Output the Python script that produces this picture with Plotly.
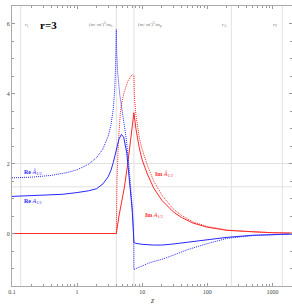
import math
import plotly.graph_objects as go

# ---- data ----
x_re_hat = [0.1, 0.2, 0.4, 0.7, 1, 1.5, 2, 2.5, 3, 3.3, 3.6, 3.8, 3.9, 3.97, 4.0, 4.05, 4.2, 4.5, 4.75,
            5.2, 5.7, 6.2, 6.6, 7.0, 7.3, 7.42, 7.46, 8, 9, 10, 12, 15, 20, 30, 50, 100, 200, 500, 1000, 2000]
re_hat = [1.59, 1.61, 1.66, 1.74, 1.82, 1.98, 2.17, 2.42, 2.78, 3.08, 3.57, 4.18, 4.78, 5.4, 5.83, 5.2, 4.6,
          4.0, 3.7, 3.2, 2.7, 2.0, 1.45, 0.8, 0.2, -0.2, -1.03, -1.0, -0.96, -0.93, -0.86, -0.8, -0.74,
          -0.62, -0.46, -0.29, -0.14, -0.06, -0.03, -0.015]

x_re_a = [0.1, 0.3, 0.6, 1, 1.5, 2, 2.5, 3, 3.3, 3.6, 3.8, 4.0, 4.4, 4.8, 5.2, 5.8, 6.5, 7.0, 7.3, 7.46,
          8, 10, 15, 20, 30, 50, 100, 200, 500, 1000, 2000]
re_a = [1.06, 1.09, 1.12, 1.17, 1.22, 1.28, 1.42, 1.62, 1.8, 2.03, 2.2, 2.4, 2.7, 2.83, 2.75, 2.3, 1.35,
        0.7, 0.1, -0.26, -0.28, -0.31, -0.33, -0.33, -0.3, -0.25, -0.18, -0.11, -0.05, -0.03, -0.015]

x_im_hat = [0.1, 4.0, 4.1, 4.3, 4.6, 4.8, 5.3, 6.0, 6.7, 7.2, 7.46, 7.6, 8, 9, 10, 12, 15, 20, 30, 40, 60,
            100, 200, 500, 1000, 2000]
im_hat = [0, 0, 1.5, 2.6, 3.4, 3.7, 4.05, 4.35, 4.5, 4.54, 4.5, 3.9, 3.4, 2.75, 2.4, 1.95, 1.5, 1.1, 0.7,
          0.52, 0.33, 0.2, 0.1, 0.045, 0.025, 0.012]

x_im_a = [0.1, 4.0, 4.4, 4.8, 5.3, 6.0, 6.7, 7.46, 8, 9, 10, 12, 15, 20, 30, 40, 60, 100, 200, 500,
          1000, 2000]
im_a = [0, 0, 0.5, 0.9, 1.3, 2.0, 2.7, 3.45, 3.0, 2.45, 2.1, 1.7, 1.3, 0.95, 0.62, 0.46, 0.3, 0.18, 0.09,
        0.04, 0.022, 0.011]

v_lines = [0.136, 4.0, 7.46, 234, 1420]
v_labels = ["r<sub>1</sub>", "(m+m')<sup>2</sup>/m<sub>s</sub>", "(m+m')<sup>2</sup>/m<sub>p</sub>",
            "r<sub>A</sub>", "r<sub>V</sub>"]
h_lines = [4 / 3, 2]

x_ticks = [0.1, 1, 10, 100, 1000]
x_tick_text = ["0.1", "1", "10", "100", "1000"]
y_ticks = [0, 2, 4, 6]

BLUE = "rgb(40,40,255)"
RED = "rgb(255,40,40)"
SERIF = "Liberation Serif"
L = math.log10  # annotations on log axes take log10 positions

fig = go.Figure()

for v in v_lines:
    fig.add_vline(x=v, line=dict(color="#e2e2e2", width=1), layer="below")
for h in h_lines:
    fig.add_hline(y=h, line=dict(color="#e2e2e2", width=1), layer="below")

fig.add_trace(go.Scatter(x=x_im_a, y=im_a, mode="lines", line=dict(color=RED, width=1)))
fig.add_trace(go.Scatter(x=x_im_hat, y=im_hat, mode="lines", line=dict(color=RED, width=1, dash="1px,1px")))
fig.add_trace(go.Scatter(x=x_re_a, y=re_a, mode="lines", line=dict(color=BLUE, width=1)))
fig.add_trace(go.Scatter(x=x_re_hat, y=re_hat, mode="lines", line=dict(color=BLUE, width=1, dash="1px,1px")))

minor_x = [m * 10 ** e for e in range(-1, 4) for m in range(2, 10)]

fig.update_xaxes(type="log", range=[-1, 3.30103], tickvals=x_ticks, ticktext=x_tick_text, automargin=False,
                 ticks="inside", ticklen=3, tickcolor="#999", showgrid=False, zeroline=False,
                 showline=True, linecolor="#aaa", linewidth=1, mirror="ticks",
                 tickfont=dict(family=SERIF, size=6, color="#444"),
                 minor=dict(tickvals=minor_x, ticks="inside", ticklen=2, tickcolor="#999", showgrid=False))
fig.update_yaxes(range=[-1.5, 6.5], tickvals=y_ticks, ticks="inside", ticklen=3, tickcolor="#999",
                 automargin=False, showgrid=False, zeroline=False, showline=True, linecolor="#aaa",
                 linewidth=1, mirror="ticks", tickfont=dict(family=SERIF, size=6, color="#444"),
                 minor=dict(dtick=0.5, ticks="inside", ticklen=2, tickcolor="#999", showgrid=False))

ann = []
shifts = [(2, "left"), (-1, "right"), (2, "left"), (-2, "right"), (-2, "right")]
for v, t, (s, a) in zip(v_lines, v_labels, shifts):
    ann.append(dict(x=L(v), y=5.97, xref="x", yref="y", text=t, showarrow=False, xanchor=a, xshift=s,
                    font=dict(family=SERIF, size=5, color="#777")))
ann.append(dict(x=L(0.37), y=5.97, xref="x", yref="y", text="<b>r=3</b>", showarrow=False,
                font=dict(family=SERIF, size=11, color="black")))
ann.append(dict(x=L(0.142), y=1.77, xref="x", yref="y", xanchor="left",
                text="<b>Re</b> <i>Â</i><sub>1/2</sub>", showarrow=False,
                font=dict(family=SERIF, size=6, color=BLUE)))
ann.append(dict(x=L(0.142), y=0.91, xref="x", yref="y", xanchor="left",
                text="<b>Re</b> <i>A</i><sub>1/2</sub>", showarrow=False,
                font=dict(family=SERIF, size=6, color=BLUE)))
ann.append(dict(x=L(14.8), y=1.71, xref="x", yref="y", xanchor="left",
                text="<b>Im</b> <i>Â</i><sub>1/2</sub>", showarrow=False,
                font=dict(family=SERIF, size=6, color=RED)))
ann.append(dict(x=L(10.4), y=0.51, xref="x", yref="y", xanchor="left",
                text="<b>Im</b> <i>A</i><sub>1/2</sub>", showarrow=False,
                font=dict(family=SERIF, size=6, color=RED)))
ann.append(dict(x=0.5, y=0, xref="paper", yref="paper", yshift=-14, yanchor="middle", text="<i>z</i>",
                showarrow=False, font=dict(family=SERIF, size=8, color="#444")))

fig.update_layout(width=292, height=305, margin=dict(l=12, r=0, t=6, b=19),
                  paper_bgcolor="white", plot_bgcolor="white", showlegend=False, annotations=ann)

fig.write_html("out.html", config={"displayModeBar": False},
               post_script="document.body.style.margin='0';document.body.style.padding='0';")
